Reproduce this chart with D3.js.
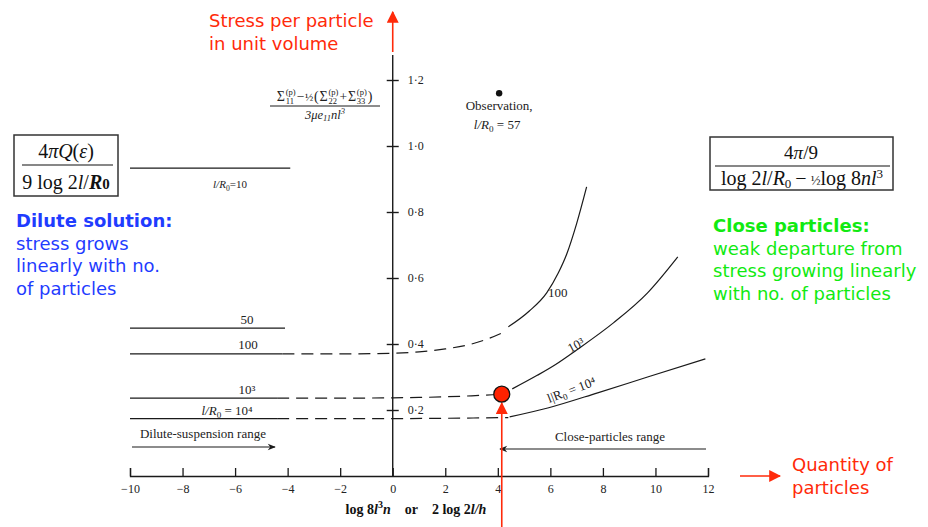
<!DOCTYPE html>
<html>
<head>
<meta charset="utf-8">
<script src="https://cdn.jsdelivr.net/npm/d3@7"></script>
<style>
  html, body { margin: 0; padding: 0; background: #fff; }
  svg { display: block; }
</style>
</head>
<body>
<svg id="chart" width="928" height="527"></svg>
<script>
// ---------- DATA ----------
const xTicks = [-10, -8, -6, -4, -2, 0, 2, 4, 6, 8, 10, 12];
const yTicks = [0.2, 0.4, 0.6, 0.8, 1.0, 1.2];

// Dilute (flat) levels, drawn from x = -10 to the end of the solid part
const diluteLabels = ["l/R₀=10", "50", "100", "10³", "l/R₀=10⁴"];
const diluteLevels = [0.933, 0.448, 0.370, 0.236, 0.174];
const diluteEndX   = [-3.9, -4.1, -4.2, -4.4, -4.4];

// Dashed extrapolations (l/R0 = 100, 10^3, 10^4)
const dash100X = [-4.2, -2, 0, 1, 2, 3, 3.6, 4.2];
const dash100Y = [0.370, 0.370, 0.372, 0.376, 0.385, 0.400, 0.415, 0.435];
const dash1000X = [-4.4, -2, 0, 1, 2, 3, 4.0];
const dash1000Y = [0.236, 0.236, 0.237, 0.238, 0.240, 0.243, 0.247];
const dash10000X = [-4.4, -2, 0, 2, 4.4];
const dash10000Y = [0.174, 0.174, 0.174, 0.175, 0.177];

// Solid close-particle curves
const curve100X = [4.4, 5.2, 5.86, 6.3, 6.62, 7.0, 7.38];
const curve100Y = [0.452, 0.500, 0.555, 0.615, 0.672, 0.765, 0.876];
const curve1000X = [4.55, 5.5, 6.2, 7.0, 8.4, 9.7, 10.85];
const curve1000Y = [0.264, 0.305, 0.338, 0.382, 0.464, 0.555, 0.664];
const curve10000X = [4.45, 5.9, 7.8, 9.7, 11.9];
const curve10000Y = [0.179, 0.206, 0.252, 0.300, 0.355];

// Observation point and highlighted point
const obsX = [4.05], obsY = [1.16];
const markX = [4.15], markY = [0.248];

// ---------- CHART ----------
const svg = d3.select("#chart");
const x = d3.scaleLinear().domain([-10, 12]).range([130, 708]);
const y = d3.scaleLinear().domain([0, 1.2]).range([476, 80]);
const ink = "#1a1a1a";
const serif = "'Liberation Serif', 'DejaVu Serif', serif";
const sans = "'DejaVu Sans', Verdana, sans-serif";
const red = "#ff2a0a";

const defs = svg.append("defs");
defs.append("marker").attr("id", "redHead").attr("viewBox", "0 0 10 10")
  .attr("refX", 9).attr("refY", 5).attr("markerWidth", 12).attr("markerHeight", 12)
  .attr("markerUnits", "userSpaceOnUse").attr("orient", "auto")
  .append("path").attr("d", "M0,0 L10,5 L0,10 Z").attr("fill", red);
defs.append("marker").attr("id", "blackHead").attr("viewBox", "0 0 10 10")
  .attr("refX", 9).attr("refY", 5).attr("markerWidth", 12).attr("markerHeight", 8)
  .attr("markerUnits", "userSpaceOnUse").attr("orient", "auto")
  .append("path").attr("d", "M0,1 L10,5 L0,9 L3,5 Z").attr("fill", ink);

// X axis (ticks upward)
const xAxis = d3.axisBottom(x).tickValues(xTicks).tickSizeInner(-8).tickSizeOuter(-8).tickPadding(6);
const gx = svg.append("g").attr("transform", `translate(0,${y(0)})`).call(xAxis);
gx.select(".domain").attr("stroke", ink).attr("stroke-width", 1.3);
gx.selectAll(".tick line").attr("stroke", ink).attr("stroke-width", 1.3);
gx.selectAll(".tick text").attr("font-family", serif).attr("font-size", 12).attr("fill", "#222").attr("dy", "0.9em");

// Y axis (crossing ticks)
svg.append("line").attr("x1", x(0)).attr("x2", x(0)).attr("y1", 55).attr("y2", y(0))
  .attr("stroke", ink).attr("stroke-width", 1.4);
const yAxis = d3.axisRight(y).tickValues(yTicks).tickSize(6).tickPadding(9)
  .tickFormat(d => d3.format(".1f")(d).replace(".", "·"));
const gy = svg.append("g").attr("transform", `translate(${x(0)},0)`).call(yAxis);
gy.select(".domain").remove();
gy.selectAll(".tick line").attr("x1", -6).attr("stroke", ink).attr("stroke-width", 1.4);
gy.selectAll(".tick text").attr("font-family", serif).attr("font-size", 12).attr("fill", "#222");

// Red axis arrows
svg.append("line").attr("x1", x(0)).attr("x2", x(0)).attr("y1", 52).attr("y2", 12)
  .attr("stroke", red).attr("stroke-width", 1.6).attr("marker-end", "url(#redHead)");
svg.append("line").attr("x1", 740).attr("x2", 780).attr("y1", y(0)).attr("y2", y(0))
  .attr("stroke", red).attr("stroke-width", 1.6).attr("marker-end", "url(#redHead)");

// Lines
const line = d3.line().x(d => x(d[0])).y(d => y(d[1])).curve(d3.curveMonotoneX);
const zip = (a, b) => a.map((v, i) => [v, b[i]]);

diluteLevels.forEach((lv, i) => {
  svg.append("path").attr("d", line([[-10, lv], [diluteEndX[i], lv]]))
    .attr("fill", "none").attr("stroke", ink).attr("stroke-width", 1.2);
});
[[dash100X, dash100Y], [dash1000X, dash1000Y], [dash10000X, dash10000Y]].forEach(([a, b]) => {
  svg.append("path").attr("d", line(zip(a, b))).attr("fill", "none")
    .attr("stroke", ink).attr("stroke-width", 1.2).attr("stroke-dasharray", "12,7");
});
[[curve100X, curve100Y], [curve1000X, curve1000Y], [curve10000X, curve10000Y]].forEach(([a, b]) => {
  svg.append("path").attr("d", line(zip(a, b))).attr("fill", "none")
    .attr("stroke", ink).attr("stroke-width", 1.2);
});

// Text helpers
function t(xp, yp, str, size, anchor, fam) {
  return svg.append("text").attr("x", xp).attr("y", yp).attr("font-family", fam || serif)
    .attr("font-size", size).attr("text-anchor", anchor || "middle").attr("fill", "#222").text(str);
}
function lR(xp, yp, tail, size) {
  const e = svg.append("text").attr("x", xp).attr("y", yp).attr("font-family", serif)
    .attr("font-size", size).attr("text-anchor", "middle").attr("fill", "#222");
  e.append("tspan").attr("font-style", "italic").text("l/R");
  e.append("tspan").attr("font-size", size * 0.7).attr("dy", 3).text("0");
  e.append("tspan").attr("dy", -3).text(tail);
  return e;
}
// Left labels
lR(230, 188, "=10", 11);
t(247, 324, diluteLabels[1], 13);
t(248, 349, diluteLabels[2], 13);
t(247, 394, "10³", 13);
lR(227, 415, " = 10⁴", 13);

// Range annotations
t(203, 438, "Dilute-suspension range", 13);
svg.append("line").attr("x1", 132).attr("x2", 275).attr("y1", 447).attr("y2", 447)
  .attr("stroke", ink).attr("stroke-width", 1.2).attr("marker-end", "url(#blackHead)");
t(610, 441, "Close-particles range", 13);
svg.append("line").attr("x1", 706).attr("x2", 500).attr("y1", 449).attr("y2", 449)
  .attr("stroke", ink).attr("stroke-width", 1.2).attr("marker-end", "url(#blackHead)");

// Curve labels
t(548, 297, "100", 13, "start");
t(0, 0, "10³", 13).attr("transform", "translate(578,349) rotate(-28)");
const l4 = svg.append("text").attr("transform", "translate(573,394) rotate(-21)")
  .attr("font-family", serif).attr("font-size", 13).attr("text-anchor", "middle").attr("fill", "#222");
l4.append("tspan").text("l|R");
l4.append("tspan").attr("font-size", 9).attr("dy", 3).text("0");
l4.append("tspan").attr("dy", -3).text(" = 10⁴");

// Observation
svg.append("circle").attr("cx", x(obsX[0])).attr("cy", y(obsY[0])).attr("r", 3.2).attr("fill", "#111");
t(x(obsX[0]), 110, "Observation,", 13);
lR(x(obsX[0]) - 2, 129, " = 57", 13);

// Y-axis formula label: pieces laid out left to right with measured widths
const fg = svg.append("g");
const pieces = [];
function piece(str, size) { pieces.push({ str, size }); }
function sigma(sub) {
  piece("Σ", 14);
  pieces.push({ stack: true, sup: "(p)", sub });
}
sigma("11");
piece("−", 13.5);
piece("½", 11);
piece("(", 14);
sigma("22");
piece("+", 13.5);
sigma("33");
piece(")", 14);
let cx = 0;
const numBase = 101;
pieces.forEach(p => {
  if (p.stack) {
    const a = fg.append("text").attr("x", cx).attr("y", numBase - 6).attr("font-family", serif)
      .attr("font-size", 8.5).attr("fill", "#222").text(p.sup);
    const b = fg.append("text").attr("x", cx).attr("y", numBase + 3).attr("font-family", serif)
      .attr("font-size", 8.5).attr("fill", "#222").text(p.sub);
    cx += Math.max(a.node().getComputedTextLength(), b.node().getComputedTextLength()) + 1;
  } else {
    const e = fg.append("text").attr("x", cx).attr("y", numBase).attr("font-family", serif)
      .attr("font-size", p.size).attr("fill", "#222").text(p.str);
    cx += e.node().getComputedTextLength() + 0.8;
  }
});
fg.attr("transform", `translate(${325 - cx / 2},0)`);
svg.append("line").attr("x1", 270).attr("x2", 380).attr("y1", 106).attr("y2", 106)
  .attr("stroke", ink).attr("stroke-width", 1);
const den = svg.append("text").attr("x", 325).attr("y", 119).attr("font-family", serif)
  .attr("font-size", 12.5).attr("text-anchor", "middle").attr("fill", "#222").attr("font-style", "italic");
den.append("tspan").text("3μe");
den.append("tspan").attr("font-size", 8.5).attr("dy", 2).text("11");
den.append("tspan").attr("dy", -2).text("nl");
den.append("tspan").attr("font-size", 8.5).attr("dy", -5).text("3");

// Boxed formulas
svg.append("rect").attr("x", 14).attr("y", 135).attr("width", 104).attr("height", 61)
  .attr("fill", "none").attr("stroke", "#333").attr("stroke-width", 1.5);
const lb1 = svg.append("text").attr("x", 66).attr("y", 158).attr("font-family", serif)
  .attr("font-size", 20).attr("text-anchor", "middle").attr("fill", "#111");
lb1.append("tspan").text("4");
lb1.append("tspan").attr("font-style", "italic").text("πQ");
lb1.append("tspan").text("(");
lb1.append("tspan").attr("font-style", "italic").text("ε");
lb1.append("tspan").text(")");
svg.append("line").attr("x1", 22).attr("x2", 113).attr("y1", 165).attr("y2", 165)
  .attr("stroke", "#111").attr("stroke-width", 1.2);
const lb2 = svg.append("text").attr("x", 66).attr("y", 189).attr("font-family", serif)
  .attr("font-size", 20).attr("text-anchor", "middle").attr("fill", "#111");
lb2.append("tspan").text("9 log 2");
lb2.append("tspan").attr("font-style", "italic").text("l");
lb2.append("tspan").text("/");
lb2.append("tspan").attr("font-style", "italic").attr("font-weight", "bold").text("R");
lb2.append("tspan").attr("font-weight", "bold").attr("font-size", 15).text("0");

svg.append("rect").attr("x", 710).attr("y", 137).attr("width", 183).attr("height", 53)
  .attr("fill", "none").attr("stroke", "#333").attr("stroke-width", 1.5);
const rb1 = svg.append("text").attr("x", 801).attr("y", 159).attr("font-family", serif)
  .attr("font-size", 19).attr("text-anchor", "middle").attr("fill", "#111");
rb1.append("tspan").text("4");
rb1.append("tspan").attr("font-style", "italic").text("π");
rb1.append("tspan").text("/9");
svg.append("line").attr("x1", 715).attr("x2", 890).attr("y1", 166).attr("y2", 166)
  .attr("stroke", "#111").attr("stroke-width", 1.2);
const rb2 = svg.append("text").attr("x", 802).attr("y", 185).attr("font-family", serif)
  .attr("font-size", 20).attr("text-anchor", "middle").attr("fill", "#111");
rb2.append("tspan").text("log 2");
rb2.append("tspan").attr("font-style", "italic").text("l");
rb2.append("tspan").text("/");
rb2.append("tspan").attr("font-style", "italic").text("R");
rb2.append("tspan").attr("font-size", 13).attr("dy", 3).text("0");
rb2.append("tspan").attr("dy", -3).text("\u2009−\u2009");
rb2.append("tspan").attr("font-size", 13).text("½");
rb2.append("tspan").text("log 8");
rb2.append("tspan").attr("font-style", "italic").text("nl");
rb2.append("tspan").attr("font-size", 13).attr("dy", -7).text("3");

// X axis title
const xt = svg.append("text").attr("x", 416).attr("y", 514).attr("font-family", serif)
  .attr("font-size", 14).attr("font-weight", "bold").attr("text-anchor", "middle").attr("fill", "#111");
xt.append("tspan").text("log 8");
xt.append("tspan").attr("font-style", "italic").text("l");
xt.append("tspan").attr("font-size", 10).attr("dy", -6).text("3");
xt.append("tspan").attr("dy", 6).attr("font-style", "italic").text("n");
xt.append("tspan").text("\u00a0\u00a0\u00a0\u00a0or\u00a0\u00a0\u00a0\u00a02 log 2");
xt.append("tspan").attr("font-style", "italic").text("l/h");

// Highlight: red arrow and dot
svg.append("line").attr("x1", x(markX[0])).attr("x2", x(markX[0])).attr("y1", 527).attr("y2", y(markY[0]) + 9)
  .attr("stroke", red).attr("stroke-width", 1.6).attr("marker-end", "url(#redHead)");
svg.append("circle").attr("cx", x(markX[0])).attr("cy", y(markY[0])).attr("r", 8)
  .attr("fill", "#ff2200").attr("stroke", "#111").attr("stroke-width", 1.3);

// Coloured annotations
function block(xp, yp, lines, color) {
  lines.forEach((s, i) => {
    svg.append("text").attr("x", xp).attr("y", yp + i * 22.7).attr("font-family", sans)
      .attr("font-size", 18).attr("font-weight", i === 0 && color !== red ? "bold" : "normal")
      .attr("fill", color).text(s);
  });
}
block(16, 227, ["Dilute solution:", "stress grows", "linearly with no.", "of particles"], "#1f3cff");
block(713, 232, ["Close particles:", "weak departure from", "stress growing linearly", "with no. of particles"], "#11ea11");
block(209, 27, ["Stress per particle", "in unit volume"], red);
block(792, 471, ["Quantity of", "particles"], red);
</script>
</body>
</html>
